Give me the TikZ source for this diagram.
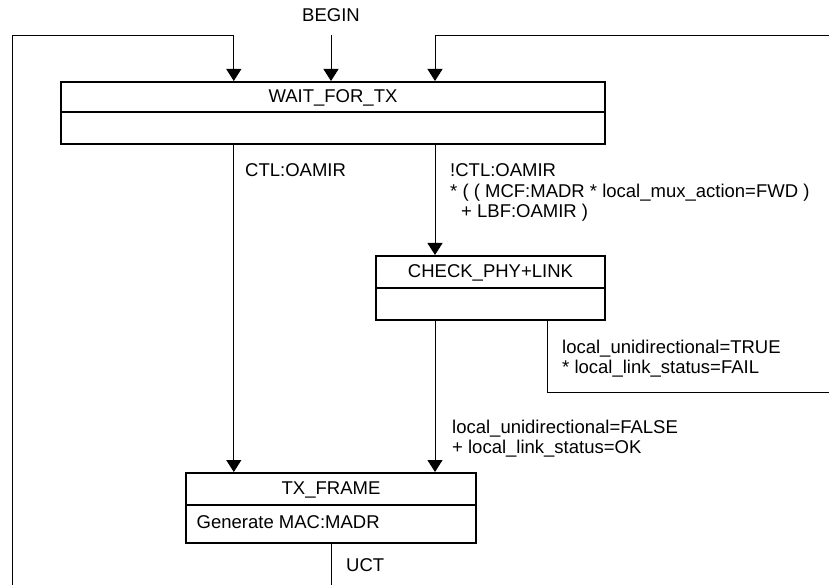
\documentclass[tikz,border=0pt]{standalone}
\usepackage{fontspec}
\setmainfont{Liberation Sans}
\usetikzlibrary{arrows.meta}

\tikzset{
  every node/.style={font=\fontsize{18.5}{20}\selectfont, inner sep=0pt},
  statehead/.style={draw, line width=2pt, outer sep=1pt,
    text height=13.3pt, text depth=2.7pt},
  statebody/.style={draw, line width=2pt, outer sep=1pt},
  lbl/.style={anchor=base west},
  wire/.style={line width=1pt},
  flow/.style={wire, -{Triangle[width=15pt,length=12pt]}},
}

\begin{document}
\begin{tikzpicture}[x=1pt, y=-1pt]
  \useasboundingbox (0,0) rectangle (829,585);

  % states: name row and action row
  \node[statehead, minimum width=544pt, minimum height=30pt] (wait) at (333,97) {WAIT\_FOR\_TX};
  \node[statebody, minimum width=544pt, minimum height=32pt] (waitbody) at (333,128) {};

  \node[statehead, minimum width=229pt, minimum height=32pt] (check) at (490.5,272) {CHECK\_PHY+LINK};
  \node[statebody, minimum width=229pt, minimum height=32pt] (checkbody) at (490.5,304) {};

  \node[statehead, minimum width=290pt, minimum height=32pt] (tx) at (331,489) {TX\_FRAME};
  \node[statebody, minimum width=290pt, minimum height=38pt] (txbody) at (331,524) {};
  \node[lbl] (txact) at (196.5,528.3) {Generate MAC:MADR};

  % columns used by the transitions
  \coordinate (xL) at (233.8,0);
  \coordinate (xB) at (331,0);
  \coordinate (xR) at (435,0);
  \coordinate (xF) at (547,0);
  \coordinate (xU) at (331.7,0);

  % entry into WAIT_FOR_TX
  \node[anchor=base] (begin) at (331,21.7) {BEGIN};
  \coordinate (bstart) at (331,35);
  \draw[flow] (bstart) -- (wait.north -| xB);

  \coordinate (loopLbot) at (12,585);
  \coordinate (loopLtop) at (12,36);
  \draw[flow] (loopLbot) -- (loopLtop) -| (wait.north -| xL);

  \coordinate (loopRtop) at (829,36);
  \draw[flow] (loopRtop) -| (wait.north -| xR);

  % WAIT_FOR_TX -> TX_FRAME
  \draw[flow] (waitbody.south -| xL) -- (tx.north -| xL);
  \node[lbl] (c1) at (245,177) {CTL:OAMIR};

  % WAIT_FOR_TX -> CHECK_PHY+LINK
  \draw[flow] (waitbody.south -| xR) -- (check.north -| xR);
  \node[lbl] (c2a) at (450,177) {!CTL:OAMIR};
  \node[lbl] (c2b) at (450,197.3) {* ( ( MCF:MADR * local\_mux\_action=FWD )};
  \node[lbl] (c2c) at (450,217.6) {\hspace*{11pt}+ LBF:OAMIR )};

  % CHECK_PHY+LINK -> TX_FRAME
  \draw[flow] (checkbody.south -| xR) -- (tx.north -| xR);
  \node[lbl] (c3a) at (452,433) {local\_unidirectional=FALSE};
  \node[lbl] (c3b) at (452,453) {+ local\_link\_status=OK};

  % CHECK_PHY+LINK failure exit
  \coordinate (failend) at (829,392);
  \draw[wire] (checkbody.south -| xF) |- (failend);
  \node[lbl] (c4a) at (562,353.5) {local\_unidirectional=TRUE};
  \node[lbl] (c4b) at (562,373.5) {* local\_link\_status=FAIL};

  % TX_FRAME exit
  \coordinate (uctend) at (331.7,585);
  \draw[wire] (txbody.south -| xU) -- (uctend);
  \node[lbl] (c5) at (346,571) {UCT};
\end{tikzpicture}
\end{document}
